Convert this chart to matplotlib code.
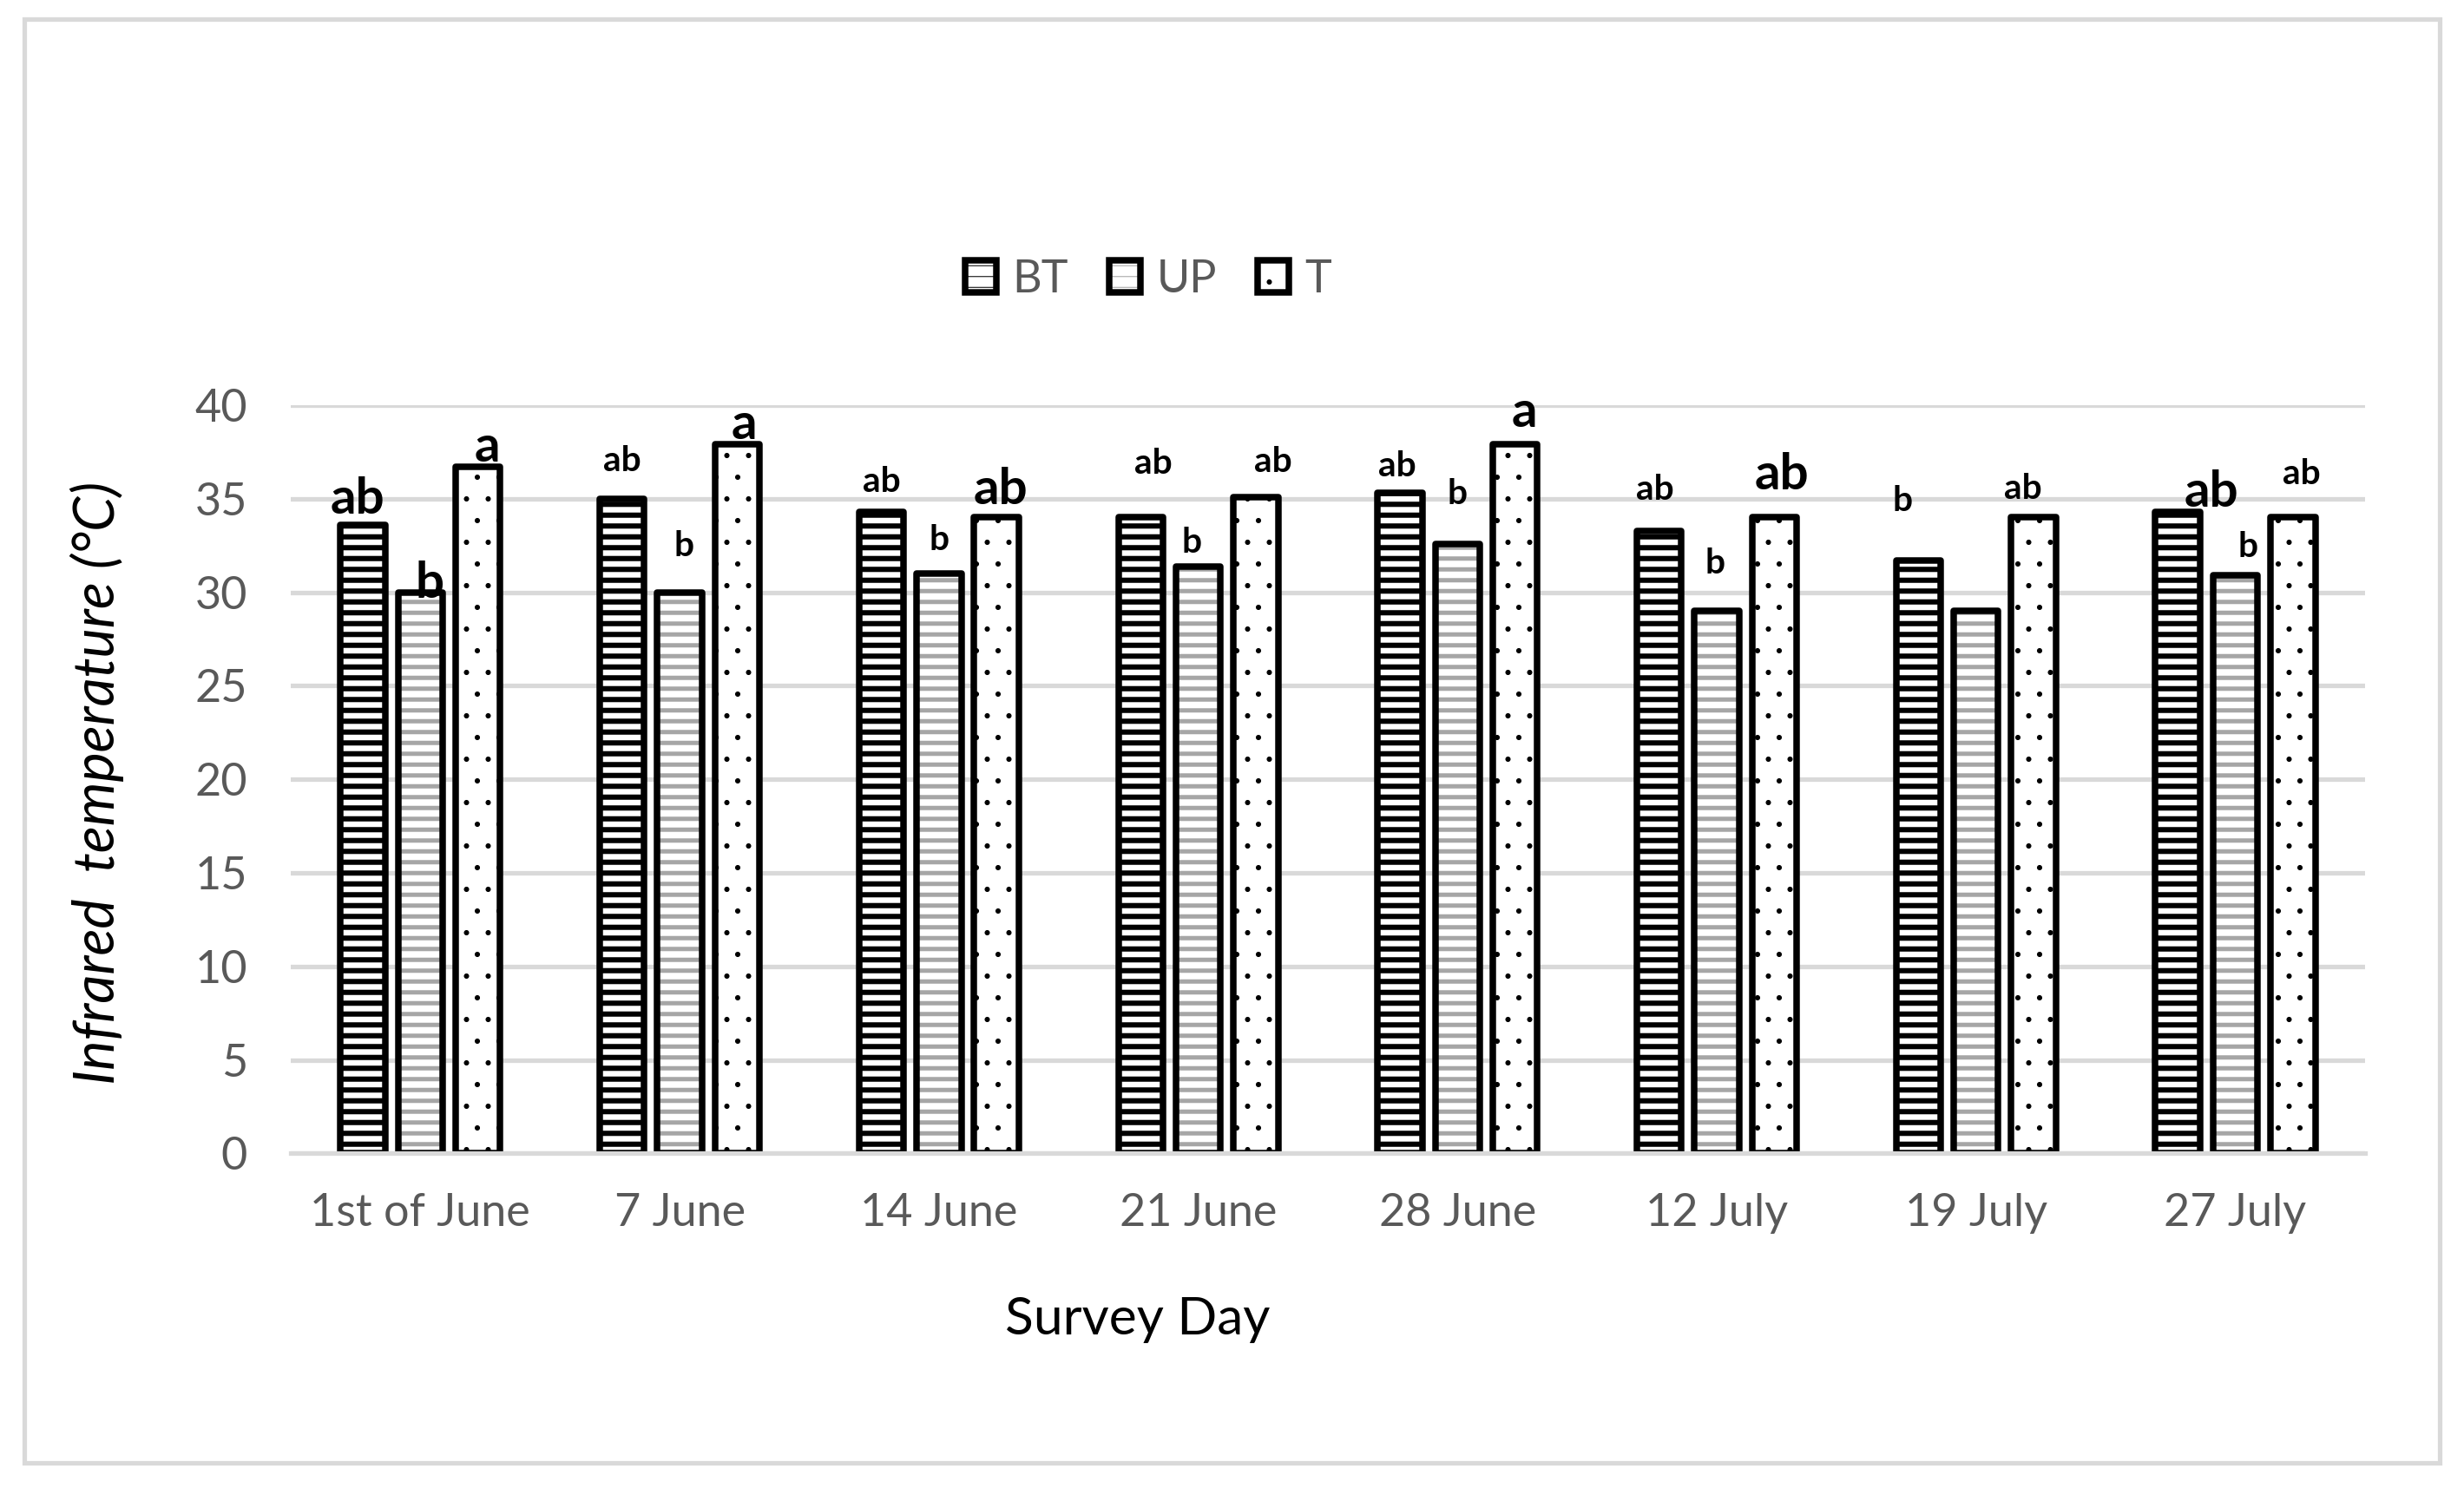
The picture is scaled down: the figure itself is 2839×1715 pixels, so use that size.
import matplotlib
matplotlib.use("Agg")
import matplotlib.pyplot as plt
from matplotlib.patches import Rectangle
from matplotlib.legend_handler import HandlerTuple
import numpy as np

days = ["1st of June", "7 June", "14 June", "21 June",
        "28 June", "12 July", "19 July", "27 July"]
series = ["BT", "UP", "T"]

bt = [33.6, 35.0, 34.3, 34.0, 35.3, 33.3, 31.7, 34.3]
up = [30.0, 30.0, 31.0, 31.4, 32.6, 29.0, 29.0, 30.9]
t = [36.7, 37.9, 34.0, 35.1, 37.9, 34.0, 34.0, 34.0]

letters_bt = ["ab", "ab", "ab", "ab", "ab", "ab", "b", "ab"]
letters_up = ["b", "b", "b", "b", "b", "b", "", "b"]
letters_t = ["a", "a", "ab", "ab", "a", "ab", "ab", "ab"]

# the letter labels were dragged around by hand in the original (Excel),
# so keep their offsets / sizes here: (dx in category units, dy above bar, big?)
place_bt = [(-0.02, 0.6, 1), (-0.0, 1.5, 0), (-0.0, 1.06, 0), (0.05, 2.36, 0),
            (-0.01, 0.9, 0), (-0.015, 1.65, 0), (-0.06, 2.65, 0), (0.13, 0.3, 1)]
place_up = [(0.035, -0.3, 1), (0.018, 1.95, 0), (0.0, 1.26, 0), (-0.024, 0.7, 0),
            (0.0, 2.1, 0), (-0.006, 2.0, 0), (0, 0, 0), (0.05, 1.0, 0)]
place_t = [(0.035, 0.3, 1), (0.028, 0.3, 1), (0.016, 0.74, 1), (0.068, 1.34, 0),
           (0.035, 0.95, 1), (0.028, 1.5, 1), (-0.04, 1.0, 0), (0.035, 1.8, 0)]

plt.rcParams["font.family"] = ["Lato", "DejaVu Sans"]

fig = plt.figure(figsize=(2839 / 150, 1715 / 150), dpi=150)
ax = fig.add_axes([0.118, 0.2249, 0.8418, 0.5027])

# light grey frame round the whole chart
fig.patches.append(Rectangle((0.010, 0.017), 0.980, 0.970, transform=fig.transFigure,
                             fill=False, edgecolor="#d9d9d9", linewidth=2.5))

x = np.arange(len(days))
step = 0.222
width = 0.172
styles = [("--", "black", 2.9), ("--", "#a6a6a6", 2.4), (".", "black", 0.5)]
handles = []
for i, (vals, (hatch, hcolor, hlw)) in enumerate(zip([bt, up, t], styles)):
    plt.rcParams["hatch.linewidth"] = hlw
    pos = x + (i - 1) * step
    fill = ax.bar(pos, vals, width, color="white", edgecolor=hcolor,
                  linewidth=0, hatch=hatch, zorder=2)
    for p in fill.patches:
        if hasattr(p, "set_hatch_linewidth"):
            p.set_hatch_linewidth(hlw)
    outline = ax.bar(pos, vals, width, facecolor="none", edgecolor="black",
                     linewidth=3.6, joinstyle="round", zorder=2.2)
    handles.append((fill, outline))

for i, (vals, letters, place) in enumerate(zip([bt, up, t],
                                               [letters_bt, letters_up, letters_t],
                                               [place_bt, place_up, place_t])):
    for j, (v, lab, (dx, dy, big)) in enumerate(zip(vals, letters, place)):
        if not lab:
            continue
        ax.text(x[j] + (i - 1) * step + dx, v + dy, lab, ha="center", va="baseline",
                fontsize=28 if big else 19.5, fontweight="bold", color="black", zorder=4)

ax.set_xlim(-0.5, len(days) - 0.5)
ax.set_ylim(0, 40)
ax.set_yticks(np.arange(0, 41, 5))
ax.set_xticks(x, days)
ax.yaxis.grid(True, color="#d9d9d9", linewidth=2.5)
ax.set_axisbelow(True)
for s in ["left", "right", "top"]:
    ax.spines[s].set_visible(False)
ax.spines["bottom"].set_color("#d9d9d9")
ax.spines["bottom"].set_linewidth(2.5)
ax.spines["bottom"].set_zorder(3)
ax.tick_params(axis="both", length=0, labelsize=25, labelcolor="#595959")
ax.tick_params(axis="y", pad=24)
ax.tick_params(axis="x", pad=22)

fig.text(0.4617, 0.113, "Survey Day", ha="center", va="center", fontsize=29)
fig.text(0.0395, 0.474, "Infrared  temperature (°C)", rotation=90, ha="center",
         va="center", fontsize=31, style="italic")

fig.legend(handles, series, loc="center", bbox_to_anchor=(0.466, 0.812), ncol=3,
           frameon=False, fontsize=25, labelcolor="#595959",
           handlelength=0.7, handleheight=0.7, handletextpad=0.35,
           columnspacing=0.9, handler_map={tuple: HandlerTuple(ndivide=1, pad=0)})

fig.savefig("out.png", dpi=150)
